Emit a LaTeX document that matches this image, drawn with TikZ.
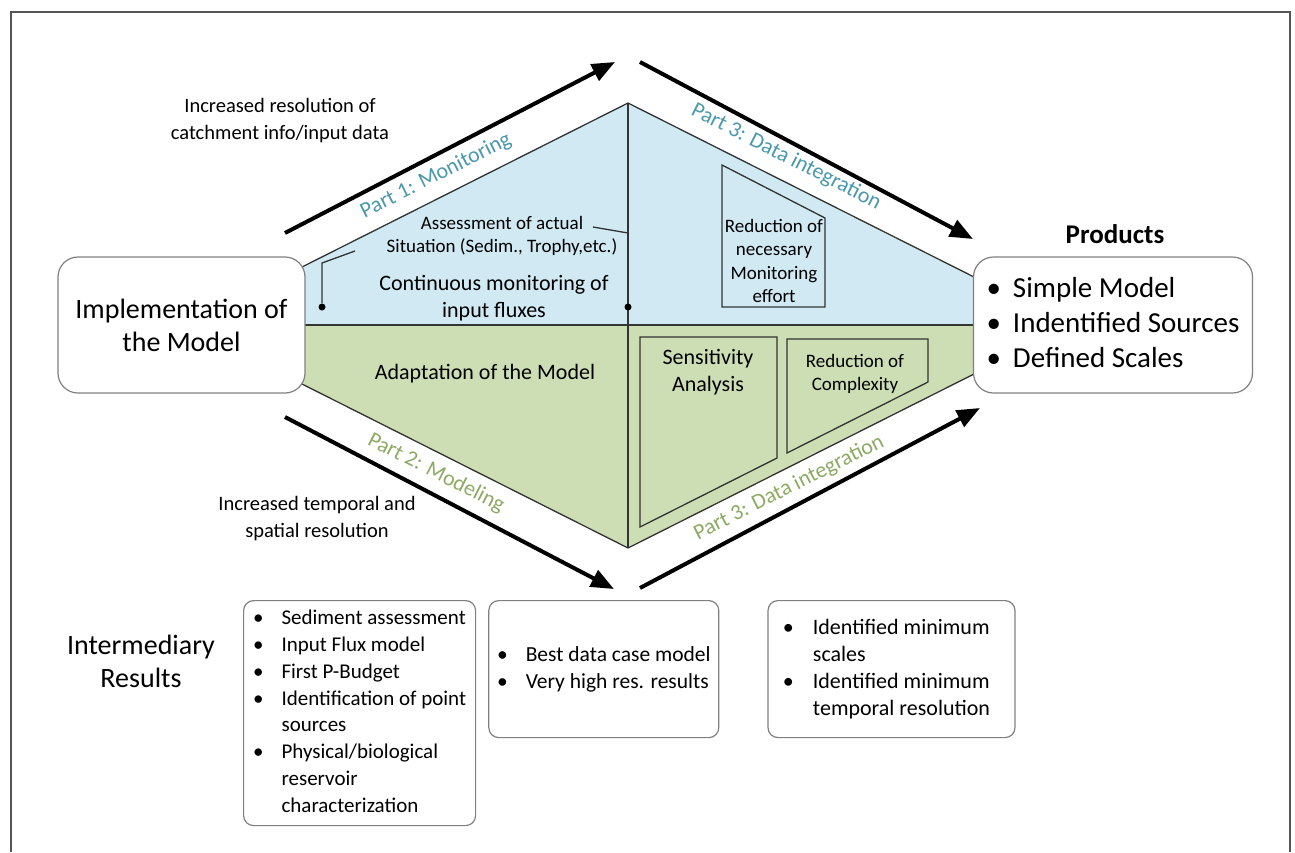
\documentclass[tikz,border=0pt]{standalone}
\usepackage{fontspec}
\setmainfont{Carlito}
\usepackage{xcolor}
\usepackage{tikz}
\usetikzlibrary{positioning,arrows.meta}
\definecolor{skyfill}{RGB}{208,233,243}
\definecolor{leaffill}{RGB}{205,222,181}
\definecolor{skytext}{RGB}{74,152,174}
\definecolor{leaftext}{RGB}{140,170,98}
\definecolor{framegray}{RGB}{85,85,85}
\tikzset{
  stagebox/.style  = {shape=rectangle, rounded corners=20pt,
                      draw=black!50, line width=1.2pt, fill=white, align=center},
  resultbox/.style = {shape=rectangle, rounded corners=10pt,
                      draw=black!50, line width=1.2pt, fill=white},
  flowarrow/.style = {line width=4pt, -{Triangle[length=23pt,width=18pt]}},
  fieldline/.style = {draw=black!80, line width=1.3pt},
  tapdot/.style    = {circle, fill=black, inner sep=0pt, minimum size=7pt},
  partlabel/.style = {font=\fontsize{22}{26}\selectfont},
  bodytext/.style  = {align=center, font=\fontsize{22}{27}\selectfont},
  smalltext/.style = {align=center, font=\fontsize{19}{23.5}\selectfont},
  sidetext/.style  = {align=center, font=\fontsize{20.5}{27}\selectfont},
  bigtext/.style   = {align=center, font=\fontsize{28}{33}\selectfont}
}

\begin{document}
\begin{tikzpicture}
  [
    x = 1pt,
    y = -1pt
  ]
  \useasboundingbox (0,0) rectangle (1295,852);
  \draw[framegray, line width=1.5pt] (11,852) -- (11,12) -- (1290,12) -- (1290,852);

  \coordinate (westTop)  at (300,268);
  \coordinate (westMid)  at (300,325);
  \coordinate (westBot)  at (300,383);
  \coordinate (apexN)    at (628,103);
  \coordinate (apexS)    at (628,548);
  \coordinate (eastTop)  at (976,278);
  \coordinate (eastMid)  at (976,325);
  \coordinate (eastBot)  at (976,373);

  \fill[skyfill]  (westTop) -- (apexN) -- (eastTop) -- (eastMid) -- (westMid) -- cycle;
  \fill[leaffill] (westMid) -- (eastMid) -- (eastBot) -- (apexS) -- (westBot) -- cycle;
  \draw[fieldline] (westTop) -- (apexN) -- (eastTop) -- (eastBot) -- (apexS) -- (westBot);
  \draw[fieldline] (westMid) -- (eastMid);
  \draw[fieldline] (apexN) -- (apexS);

  \draw[fieldline] (722,165) -- (825,218) -- (825,307) -- (722,307) -- cycle;
  \draw[fieldline] (640,337) -- (777,337) -- (777,458) -- (640,527) -- cycle;
  \draw[fieldline] (787,339) -- (928,339) -- (928,382) -- (787,453) -- cycle;

  \node[smalltext] (assess)  at (502,236) {Assessment of actual\\Situation (Sedim., Trophy,etc.)};
  \node[bodytext]  (contin)  at (494,298) {Continuous monitoring of\\input fluxes};
  \node[bodytext]  (adapt)   at (485,374) {Adaptation of the Model};
  \node[smalltext] (effort)  at (774,261) {Reduction of\\necessary\\Monitoring\\effort};
  \node[bodytext]  (sens)    at (708,372) {Sensitivity\\Analysis};
  \node[smalltext] (complex) at (855,374) {Reduction of\\Complexity};

  \coordinate (assessEnd)  at (593,227);
  \coordinate (assessHook) at (628,233);
  \coordinate (contEnd)    at (355,251);
  \coordinate (contBend)   at (322,263);
  \node[tapdot] (contDotW) at (322,307) {};
  \node[tapdot] (contDotE) at (628,307) {};
  \draw[fieldline] (assessEnd) -- (assessHook);
  \draw[fieldline] (contEnd) -- (contBend) -- (contDotW);

  \node[stagebox, bigtext, minimum width=247pt, minimum height=136pt]
    (implement) at (181.5,325) {Implementation of\\the Model};
  \node[stagebox, minimum width=279pt, minimum height=136pt,
        font=\fontsize{29}{35}\selectfont]
    (products) at (1113,325)
    {\begin{tabular}{@{}l@{\hspace{12pt}}l@{}}
       \textbullet & Simple Model\\
       \textbullet & Indentified Sources\\
       \textbullet & Defined Scales
     \end{tabular}};
  \node[font=\bfseries\fontsize{27}{32}\selectfont] (prodTitle) at (1115,234) {Products};

  \coordinate (monTail)  at (285,233);
  \coordinate (monHead)  at (615,62);
  \coordinate (intTail)  at (640,62);
  \coordinate (intHead)  at (973,239);
  \coordinate (modTail)  at (285,417);
  \coordinate (modHead)  at (614,589);
  \coordinate (redTail)  at (640,588);
  \coordinate (redHead)  at (980,408);
  \draw[flowarrow] (monTail) -- (monHead);
  \draw[flowarrow] (intTail) -- (intHead);
  \draw[flowarrow] (modTail) -- (modHead);
  \draw[flowarrow] (redTail) -- (redHead);

  \node[partlabel, text=skytext,  rotate=26.7]  (partMon)  at (436,176) {Part 1: Monitoring};
  \node[partlabel, text=skytext,  rotate=-26.9] (partIntN) at (786,157) {Part 3: Data integration};
  \node[partlabel, text=leaftext, rotate=-26.9] (partMod)  at (436,473) {Part 2: Modeling};
  \node[partlabel, text=leaftext, rotate=26.7]  (partIntS) at (789,488) {Part 3: Data integration};

  \node[sidetext] (resolIn)   at (280,121) {Increased resolution of\\catchment info/input data};
  \node[sidetext] (resolTime) at (317,519) {Increased temporal and\\spatial resolution};

  \node[bigtext] (interRes) at (141,661) {Intermediary\\Results};

  \node[resultbox, anchor=north west, minimum width=232pt, minimum height=225pt,
        font=\fontsize{21}{26.8}\selectfont]
    (resA) at (243,600)
    {\begin{tabular}{@{}l@{\hspace{18pt}}l@{}}
       \textbullet & Sediment assessment\\
       \textbullet & Input Flux model\\
       \textbullet & First P-Budget\\
       \textbullet & Identification of point\\
                   & sources\\
       \textbullet & Physical/biological\\
                   & reservoir\\
                   & characterization
     \end{tabular}};
  \node[resultbox, right=12pt of resA.north east, anchor=north west,
        minimum width=230pt, minimum height=137pt,
        font=\fontsize{21.5}{27}\selectfont]
    (resB)
    {\begin{tabular}{@{}l@{\hspace{18pt}}l@{}}
       \textbullet & Best data case model\\
       \textbullet & Very high res. results
     \end{tabular}};
  \node[resultbox, right=48pt of resB.north east, anchor=north west,
        minimum width=247pt, minimum height=137pt,
        font=\fontsize{22}{27}\selectfont]
    (resC)
    {\begin{tabular}{@{}l@{\hspace{19pt}}l@{}}
       \textbullet & Identified minimum\\
                   & scales\\
       \textbullet & Identified minimum\\
                   & temporal resolution
     \end{tabular}\hspace*{10pt}};
\end{tikzpicture}
\end{document}
